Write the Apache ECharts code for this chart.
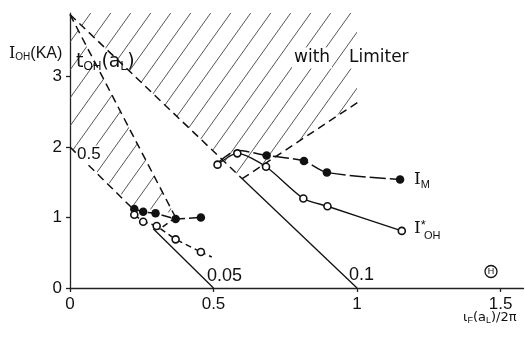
<!DOCTYPE html>
<html><head><meta charset="utf-8">
<script src="https://cdn.jsdelivr.net/npm/echarts@6/dist/echarts.min.js"></script>
<style>html,body{margin:0;background:#fff}#c{width:525px;height:337px}</style>
</head><body><div id="c"></div>
<script>
// tick labels
const xTicks = [0, 0.5, 1, 1.5];
const yTicks = [0, 1, 2, 3];
// I_M (filled) points
const imLow = [[0.224,1.12],[0.255,1.08],[0.298,1.06],[0.368,0.98],[0.456,1.0]];
const imUp = [[0.514,1.77],[0.583,1.95],[0.685,1.88],[0.815,1.80],[0.895,1.64],[1.15,1.54]];
// I*_OH (open) points
const ohLow = [[0.224,1.04],[0.255,0.94],[0.302,0.88],[0.368,0.69],[0.456,0.51]];
const ohLowTail = [[0.456,0.51],[0.494,0.44]];
const ohUp = [[0.514,1.75],[0.583,1.91],[0.683,1.72],[0.813,1.27],[0.897,1.16],[1.156,0.81]];
// Theta lines
const q05Dash = [[0,2.0],[0.22,1.12]];
const q05Solid = [[0.29,0.84],[0.5,0]];
const q1Dash = [[0,3.88],[0.6,1.55]];
const q1Solid = [[0.6,1.55],[1.0,0]];
// t_OH(a_L) boundaries
const tohSteep = [[0,3.88],[0.368,1.0]];
const tohLow = [[0.368,1.0],[0.31,0.83]];
const tohUp = [[0.6,1.55],[1.005,2.64]];
// hatched regions
const hatchLeft = [[0,3.88],[0.362,1.06],[0.30,1.1],[0.224,1.16],[0,2.0]];
const hatchRight = [[0,3.9],[0,3.88],[0.6,1.55],[1.0,2.64],[1.0,3.9]];

function makeHatch(){
  const c = document.createElement('canvas'); c.width = 20; c.height = 28;
  const g = c.getContext('2d'); g.strokeStyle = '#444'; g.lineWidth = 0.9;
  g.beginPath();
  for (let k = -1; k <= 1; k++) { g.moveTo(k*20, 28); g.lineTo(k*20+20, 0); }
  g.stroke(); return c;
}
const hatchImg = makeHatch();
const INK = '#111';
function ln(data, dash, extra){
  return Object.assign({type:'line', data: data, symbol:'none', silent:true, animation:false, z:3,
    lineStyle:{color:INK, width:1.5, type:dash}}, extra || {});
}
const openStyle = {color:'#fff', borderColor:INK, borderWidth:1.6};
const fillStyle = {color:INK};
const polys = [hatchLeft, hatchRight];

const chart = echarts.init(document.getElementById('c'), null, {renderer:'canvas'});
const serif = 'DejaVu Serif', sans = 'Liberation Sans', dsans = 'DejaVu Sans';
function txt(x, y, text, rich, extra){
  return {type:'text', x:x, y:y, z:100, style:Object.assign({text:text, rich:rich, fill:INK, verticalAlign:'middle', align:'left'}, extra||{})};
}
chart.setOption({
  animation:false,
  grid:{left:70, right:1.5, top:13.05, bottom:49},
  xAxis:{type:'value', min:0, max:1.58, interval:0.5, splitLine:{show:false},
    axisLine:{lineStyle:{color:'#222', width:1.3}},
    axisTick:{customValues:xTicks, length:4, lineStyle:{color:'#222', width:1.3}},
    axisLabel:{customValues:xTicks, formatter:v=>String(v), color:INK, fontSize:17, fontFamily:sans, margin:8}},
  yAxis:{type:'value', min:0, max:3.9, interval:1, splitLine:{show:false},
    axisLine:{show:true, lineStyle:{color:'#222', width:1.3}},
    axisTick:{show:true, customValues:yTicks, length:4, lineStyle:{color:'#222', width:1.3}},
    axisLabel:{customValues:yTicks, color:INK, fontSize:17, fontFamily:sans, margin:8}},
  series:[
    {type:'custom', silent:true, z:1, data:[[0,0],[0,0]],
      renderItem:(params, api)=>({type:'polygon',
        shape:{points: polys[params.dataIndex].map(p=>api.coord(p))},
        style:{fill:{image:hatchImg, repeat:'repeat'}, stroke:null}})},
    ln(q05Dash, [8,5]), ln(q05Solid, 'solid', {lineStyle:{color:INK, width:1.3, type:'solid'}}),
    ln(q1Dash, [8,5]), ln(q1Solid, 'solid', {lineStyle:{color:INK, width:1.3, type:'solid'}}),
    ln(tohSteep, [8,5]), ln(tohLow, [6,4]), ln(tohUp, [8,5]),
    ln(imLow, [10,4], {symbol:'circle', symbolSize:8.5, itemStyle:fillStyle, z:5}),
    ln(imUp.map((p,i)=>i<2?{value:p, symbol:'none'}:{value:p}), [16,4],
      {symbol:'circle', symbolSize:8.5, itemStyle:fillStyle, smooth:0.3, z:5}),
    ln(ohLowTail, [5,4]),
    ln(ohLow, [6,4], {symbol:'circle', symbolSize:7, itemStyle:openStyle, z:6}),
    ln(ohUp, 'solid', {symbol:'circle', symbolSize:7, itemStyle:openStyle, smooth:0.25, z:6,
      lineStyle:{color:INK, width:1.4, type:'solid'}})
  ],
  graphic:[
    txt(9, 54, '{m|I}{s|OH}{k|(KA)}', {m:{fontFamily:serif, fontSize:16, fill:INK}, k:{fontFamily:sans, fontSize:16, fill:INK}, s:{fontFamily:sans, fontSize:10, fill:INK, padding:[7,0,0,0]}}),
    txt(76, 62, '{m|t}{s|OH}{m|(a}{s|L}{m|)}', {m:{fontFamily:dsans, fontSize:19, fill:INK}, s:{fontFamily:sans, fontSize:12, fill:INK, padding:[9,0,0,0]}}),
    txt(76, 154, '0.5', null, {font:'17px Liberation Sans', backgroundColor:'#fff', padding:[0,1,0,1]}),
    txt(292, 58, 'with', null, {font:'17px DejaVu Sans', backgroundColor:'#fff', padding:[2,2,2,2]}),
    txt(347, 58, 'Limiter', null, {font:'17px DejaVu Sans', backgroundColor:'#fff', padding:[2,2,2,2]}),
    txt(414, 180, '{m|I}{s|M}', {m:{fontFamily:serif, fontSize:17, fill:INK}, s:{fontFamily:sans, fontSize:11, fill:INK, padding:[9,0,0,0]}}),
    txt(414, 229, '{m|I}{s|*}', {m:{fontFamily:serif, fontSize:17, fill:INK}, s:{fontFamily:sans, fontSize:13, fill:INK, padding:[0,0,8,0]}}),
    txt(424, 236, 'OH', null, {font:'11px Liberation Sans'}),
    txt(207, 276, '0.05', null, {font:'18px Liberation Sans'}),
    txt(349, 275, '0.1', null, {font:'18px Liberation Sans'}),
    {type:'circle', z:100, shape:{cx:491, cy:271.5, r:6}, style:{fill:'none', stroke:INK, lineWidth:1.3}},
    txt(491, 272, 'H', null, {font:'9px Liberation Sans', align:'center'}),
    txt(463, 318, '{m|ι}{s|F}{m|(a}{s|L}{m|)/2π}', {m:{fontFamily:dsans, fontSize:13, fill:INK}, s:{fontFamily:sans, fontSize:9, fill:INK, padding:[5,0,0,0]}})
  ]
});
</script></body></html>
